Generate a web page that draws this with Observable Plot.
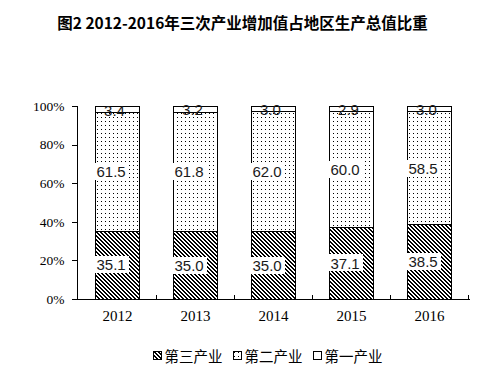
<!DOCTYPE html>
<html>
<head>
<meta charset="utf-8">
<script src="https://cdn.jsdelivr.net/npm/d3@7"></script>
<script src="https://cdn.jsdelivr.net/npm/@observablehq/plot@0.6"></script>
<style>
  body { margin: 0; background: white; width: 485px; }
  #title { height: 35px; padding-top: 5px; line-height: 35px; text-align: center;
    font-family: "Noto Sans CJK SC", sans-serif; font-weight: bold; font-size: 15.5px; color: #000; }
  #chart svg { display: block; }
  #legend { display: flex; justify-content: center; align-items: center; height: 30px; margin-top: 4px;
    font-family: "Noto Sans CJK SC", sans-serif; font-size: 14.5px; color: #000; padding-left: 50px; }
  .item { display: flex; align-items: center; margin: 0 5px; }
  .item svg { margin-right: 3px; }
</style>
</head>
<body>
<div id="title">图2 2012-2016年三次产业增加值占地区生产总值比重</div>
<div id="chart"></div>
<div id="legend"></div>
<script>
const years = ["2012", "2013", "2014", "2015", "2016"];
const industries = ["第三产业", "第二产业", "第一产业"];
const tertiary = [35.1, 35.0, 35.0, 37.1, 38.5];
const secondary = [61.5, 61.8, 62.0, 60.0, 58.5];
const primary = [3.4, 3.2, 3.0, 2.9, 3.0];
const yTicks = [0, 20, 40, 60, 80, 100];
const fills = {"第三产业": "url(#hatch)", "第二产业": "url(#dots)", "第一产业": "white"};

const series = [tertiary, secondary, primary];
const data = years.flatMap((yr, i) => industries.map((ind, k) => ({year: yr, industry: ind, value: series[k][i]})));

const W = 485, ML = 77, MR = 16;
const step = (W - ML - MR) / years.length;
const serif = "'Liberation Serif', 'DejaVu Serif', serif";

const chart = Plot.plot({
  width: W, height: 296,
  marginLeft: ML, marginRight: MR, marginTop: 66, marginBottom: 37,
  x: {domain: years, paddingInner: 0.43, paddingOuter: 0.215, label: null},
  y: {domain: [0, 100], label: null},
  color: {type: "identity"},
  style: {fontFamily: serif, fontSize: "13px", color: "black", background: "white", overflow: "visible"},
  marks: [
    Plot.barY(data, {x: "year", y: "value", z: "industry", order: industries, fill: d => fills[d.industry], stroke: "black", strokeWidth: 1}),
    Plot.frame({anchor: "left", stroke: "black"}),
    Plot.frame({anchor: "bottom", stroke: "black"}),
    Plot.ruleX(years, {x: d => d, y1: 0, y2: 2, dx: step / 2, stroke: "black"}),
    Plot.axisY({ticks: yTicks, tickFormat: d => d + "%", tickSize: 5, tickPadding: 8, fontSize: 13.5, fontFamily: serif}),
    Plot.axisX({tickSize: 0, tickPadding: 11, fontSize: 15, fontFamily: serif}),
    Plot.text(data, Plot.stackY({x: "year", y: "value", z: "industry", order: industries,
      text: d => d.industry === "第一产业" ? "" : d.value.toFixed(1),
      textAnchor: "start", dx: -21, fontSize: 15, fontFamily: "'Liberation Sans', sans-serif", fill: "#1a1a1a"})),
    Plot.text(data, Plot.stackY({x: "year", y: "value", z: "industry", order: industries,
      text: d => d.industry === "第一产业" ? d.value.toFixed(1) : "",
      dx: -3, dy: 1, fontSize: 15, fontFamily: "'Liberation Sans', sans-serif", fill: "#1a1a1a"}))
  ]
});

document.getElementById("chart").appendChild(chart);

// patterns
const ns = "http://www.w3.org/2000/svg";
const defs = document.createElementNS(ns, "defs");
function mkPattern(id, pixels) {
  const p = document.createElementNS(ns, "pattern");
  p.setAttribute("id", id);
  p.setAttribute("width", 4); p.setAttribute("height", 4);
  p.setAttribute("patternUnits", "userSpaceOnUse");
  const bg = document.createElementNS(ns, "rect");
  bg.setAttribute("width", 4); bg.setAttribute("height", 4); bg.setAttribute("fill", "white");
  p.appendChild(bg);
  for (const [x, y] of pixels) {
    const r = document.createElementNS(ns, "rect");
    r.setAttribute("x", x); r.setAttribute("y", y);
    r.setAttribute("width", 1); r.setAttribute("height", 1);
    r.setAttribute("fill", "black");
    p.appendChild(r);
  }
  defs.appendChild(p);
}
const hatchPx = [];
for (let y = 0; y < 4; y++) { hatchPx.push([y, y]); hatchPx.push([(y + 1) % 4, y]); }
mkPattern("hatch", hatchPx);
mkPattern("dots", [[1, 1]]);
chart.insertBefore(defs, chart.firstChild);
chart.setAttribute("shape-rendering", "crispEdges");

// white boxes behind the lower two series' labels
const textGroups = chart.querySelectorAll('g[aria-label="text"]');
if (textGroups.length) {
  textGroups[0].querySelectorAll("text").forEach(t => {
    if (!t.textContent) return;
    const b = t.getBBox();
    const r = document.createElementNS(ns, "rect");
    r.setAttribute("x", b.x - 2); r.setAttribute("y", b.y);
    r.setAttribute("width", b.width + 5); r.setAttribute("height", b.height);
    r.setAttribute("fill", "white");
    r.setAttribute("stroke", "none");
    if (t.getAttribute("transform")) r.setAttribute("transform", t.getAttribute("transform"));
    t.parentNode.insertBefore(r, t);
  });
}
chart.querySelectorAll("text").forEach(t => t.setAttribute("shape-rendering", "auto"));

// legend
const legend = document.getElementById("legend");
industries.forEach(ind => {
  const item = document.createElement("div");
  item.className = "item";
  item.innerHTML = `<svg width="9" height="9"><rect x="0.5" y="0.5" width="8" height="8" fill="${fills[ind]}" stroke="black" shape-rendering="crispEdges"/></svg><span>${ind}</span>`;
  legend.appendChild(item);
});
</script>
</body>
</html>
